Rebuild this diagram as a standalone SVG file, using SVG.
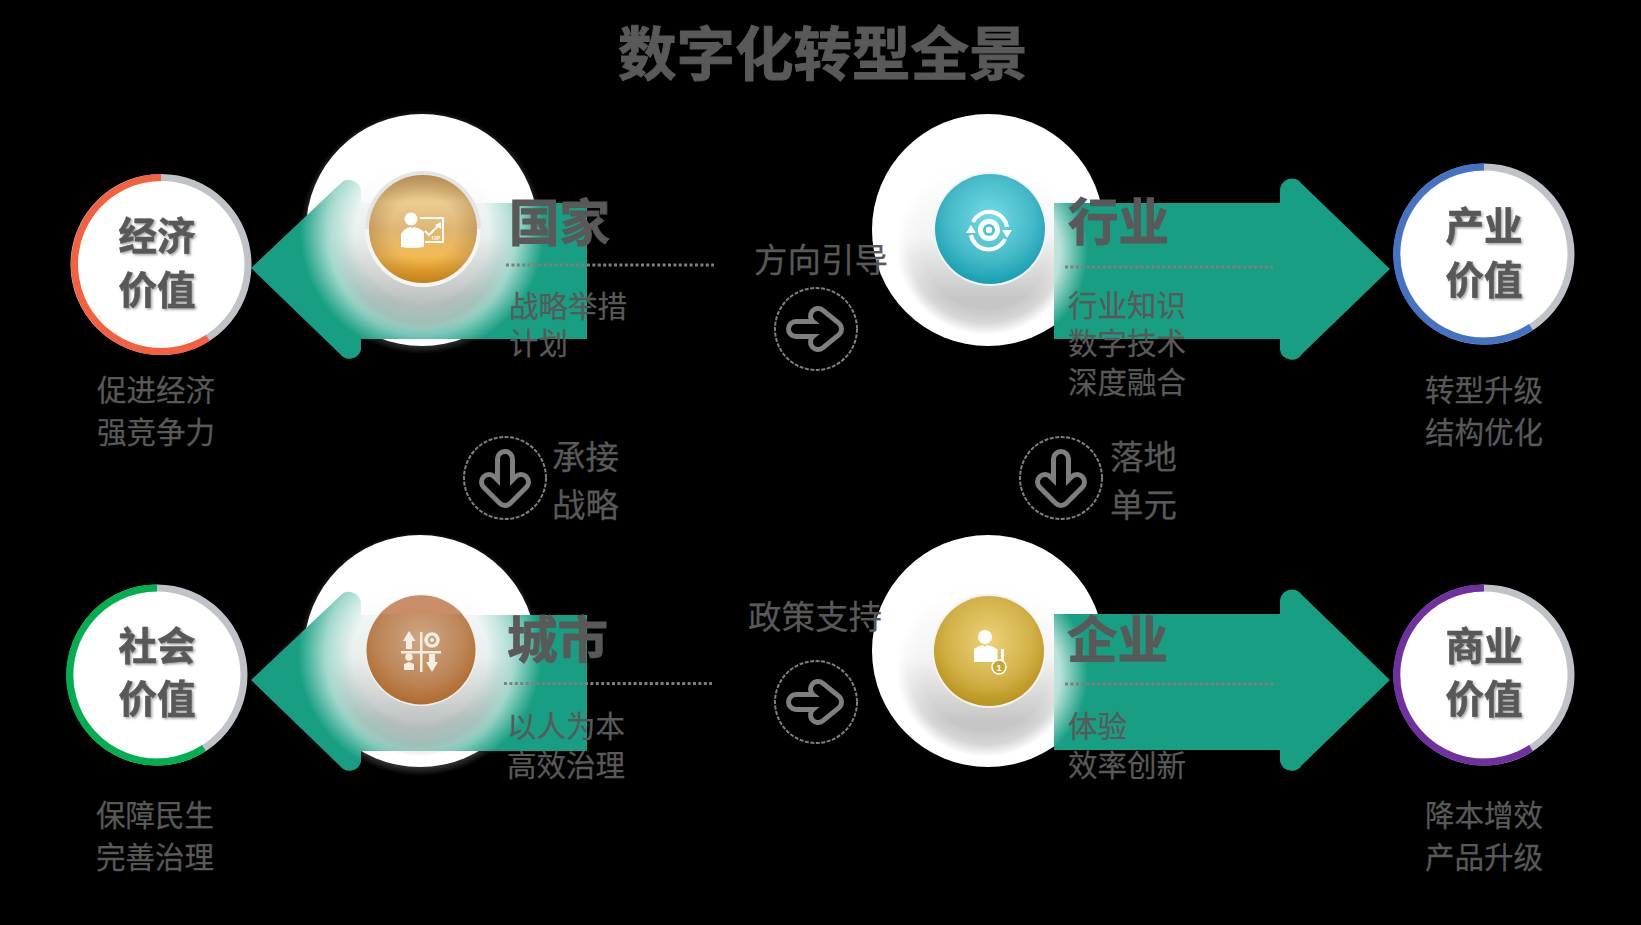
<svg xmlns="http://www.w3.org/2000/svg" width="1641" height="925" viewBox="0 0 1641 925">
<style>
text{font-family:"Liberation Sans","Noto Sans CJK SC",sans-serif;fill:#595959}
.title{font-size:58.500px;font-weight:700;stroke:#595959;stroke-width:1}
.val{font-size:38.500px;font-weight:700;text-anchor:middle;filter:url(#ts);stroke:#595959;stroke-width:.6}
.head{font-size:50.500px;font-weight:700;stroke:#595959;stroke-width:1}
.sub{font-size:29.500px;stroke:#595959;stroke-width:.25}
.cap{font-size:29.500px;text-anchor:middle;stroke:#595959;stroke-width:.25}
.lab{font-size:33.500px;stroke:#595959;stroke-width:.25}
.dot{stroke:#7f7f7f;stroke-width:3;stroke-dasharray:3 2.400;fill:none}
.track{fill:#fff;stroke:#bfc3c9;stroke-width:7}
.arc{fill:none;stroke-width:7}
.arrow{fill:#189f83}
.ic{fill:#fff}
.ics{fill:none;stroke:#fff}
.dash{fill:none;stroke:#7f7f7f;stroke-width:2;stroke-dasharray:4 1.500}
.ao{fill:none;stroke:#7f7f7f;stroke-width:20;stroke-linecap:round;stroke-linejoin:round}
.ai{fill:none;stroke:#000;stroke-width:10;stroke-linecap:round;stroke-linejoin:round}
.shade{fill:url(#shade);mask:url(#fadeUp)}
</style>
<defs>
<filter id="ts" x="-10%" y="-10%" width="125%" height="125%"><feDropShadow dx="1.500" dy="1.500" stdDeviation="1.200" flood-color="#8c8c8c" flood-opacity=".8"/></filter>
<radialGradient id="whiteL"><stop offset="0" stop-color="#fff" stop-opacity="1"/><stop offset=".55" stop-color="#fff" stop-opacity=".95"/><stop offset=".78" stop-color="#fff" stop-opacity=".6"/><stop offset="1" stop-color="#fff" stop-opacity="0"/></radialGradient>
<radialGradient id="whiteR"><stop offset="0" stop-color="#fff" stop-opacity="1"/><stop offset=".72" stop-color="#fff" stop-opacity=".7"/><stop offset="1" stop-color="#fff" stop-opacity="0"/></radialGradient>
<radialGradient id="shade"><stop offset="0" stop-color="#777" stop-opacity=".42"/><stop offset=".7" stop-color="#777" stop-opacity=".42"/><stop offset=".86" stop-color="#777" stop-opacity=".3"/><stop offset="1" stop-color="#777" stop-opacity="0"/></radialGradient>
<linearGradient id="fadeG" x1="0" y1="0" x2="0" y2="1"><stop offset=".05" stop-color="#000"/><stop offset=".45" stop-color="#333"/><stop offset=".8" stop-color="#fff"/></linearGradient>
<mask id="fadeUp" maskContentUnits="objectBoundingBox"><rect width="1" height="1" fill="url(#fadeG)"/></mask>
<linearGradient id="org" x1="0" y1="0" x2="0" y2="1"><stop offset="0" stop-color="#c49c62"/><stop offset=".25" stop-color="#eccd92"/><stop offset=".5" stop-color="#dfb672"/><stop offset=".75" stop-color="#f2ba55"/><stop offset="1" stop-color="#d98a08"/></linearGradient>
<radialGradient id="edge"><stop offset=".6" stop-color="#9a6f38" stop-opacity="0"/><stop offset="1" stop-color="#9a6f38" stop-opacity=".35"/></radialGradient>
<radialGradient id="cya" cx=".5" cy=".4" r=".65"><stop offset="0" stop-color="#74dde6"/><stop offset=".6" stop-color="#45b9c8"/><stop offset="1" stop-color="#0a99ad"/></radialGradient>
<radialGradient id="bro" cx=".5" cy=".4" r=".65"><stop offset="0" stop-color="#cfa785"/><stop offset=".6" stop-color="#bd8658"/><stop offset="1" stop-color="#ae6425"/></radialGradient>
<radialGradient id="gol" cx=".5" cy=".4" r=".65"><stop offset="0" stop-color="#ecd278"/><stop offset=".6" stop-color="#d2b148"/><stop offset="1" stop-color="#b18c10"/></radialGradient>
<path id="arL" class="arrow" d="M251 268L340 184A12 12 0 0 1 361 192V203H587V339H361V350A12 12 0 0 1 340 354Z"/>
<path id="arR" class="arrow" d="M1390 269L1302 184A12 12 0 0 0 1280 192V203H1054V339H1280V350A12 12 0 0 0 1302 354Z"/>
<g id="rightA"><circle class="dash" cx="816" cy="329" r="41"/><path class="ao" d="M796 329H834M818 316L834 329L818 342"/><path class="ai" d="M796 329H834M818 316L834 329L818 342"/></g>
<g id="downA"><circle class="dash" cx="505" cy="478" r="41"/><path class="ao" d="M505 459V498M489 482L505 498L521 482"/><path class="ai" d="M505 459V498M489 482L505 498L521 482"/></g>
</defs>
<rect width="1641" height="925" fill="#000"/>
<text class="title" x="618" y="75">数字化转型全景</text>

<g id="connectors">
<use href="#rightA"/>
<use href="#rightA" y="373"/>
<use href="#downA"/>
<use href="#downA" x="556"/>
</g>

<g id="node-guojia">
<circle cx="422" cy="230" r="116" fill="#fff"/>
<use href="#arL"/>
<circle cx="422" cy="232" r="122" fill="url(#whiteL)"/>
<circle class="shade" cx="422" cy="245" r="90"/>
<circle cx="423" cy="229" r="58" fill="#e4e4e4"/><path d="M365 229a58 58 0 0 0 116 0z" fill="#f4f4f4"/>
<circle cx="423" cy="229" r="54" fill="url(#org)"/><circle cx="423" cy="229" r="54" fill="url(#edge)"/>
<circle class="ic" cx="411" cy="219" r="6.500"/>
<path class="ic" d="M401 234q3-6 10-7l1 2 1-2q7 1 11 5v15q-12 2-23 0z"/>
<path class="ics" stroke-width="2" d="M420 218H443V242H425"/>
<path class="ics" stroke-width="2" d="M425 231L429 235L438 226"/><path class="ic" d="M441 222V229L435 225z"/>
<text x="436" y="240" font-size="6" font-weight="700" text-anchor="middle" style="fill:#fff">UP</text>
</g>

<g id="node-hangye">
<circle cx="988" cy="230" r="116" fill="#fff"/>
<circle class="shade" cx="986" cy="245" r="90"/>
<use href="#arR"/>
<clipPath id="cr1"><rect x="1054" y="203" width="60" height="136"/></clipPath>
<circle cx="988" cy="252" r="100" fill="url(#whiteR)" clip-path="url(#cr1)"/>
<circle cx="990" cy="229" r="57" fill="#f2f2f2"/>
<circle cx="990" cy="229" r="55" fill="url(#cya)"/>
<circle class="ic" cx="989" cy="230" r="11"/><circle cx="989" cy="230" r="6" fill="#4cc3d0"/><circle class="ic" cx="989" cy="230" r="3.200"/>
<path class="ics" stroke-width="4" d="M973 222A18 18 0 0 1 1007 227M1005 239A18 18 0 0 1 971 235"/>
<path class="ic" d="M1002 230H1012L1007 238zM966 233H976L971 225z"/>
</g>

<g id="node-chengshi">
<circle cx="420" cy="651" r="116" fill="#fff"/>
<use href="#arL" y="412"/>
<circle cx="420" cy="654" r="122" fill="url(#whiteL)"/>
<circle class="shade" cx="420" cy="667" r="90"/>
<circle cx="421" cy="650" r="56" fill="#ecf0ee"/>
<circle cx="421" cy="650" r="54.500" fill="url(#bro)"/>
<clipPath id="cb"><rect x="360" y="590" width="130" height="24"/></clipPath>
<circle cx="421" cy="650" r="54.500" fill="#c98d68" clip-path="url(#cb)"/>
<g class="ic" style="fill:#f2efe2">
<rect x="420" y="632" width="2.500" height="40"/><rect x="401" y="651" width="40" height="2.500"/>
<path d="M409 631L415.500 641H412V649H406V641H403z"/>
<path d="M432 672L438 662H435V654H429V662H426z"/>
<circle cx="409" cy="657" r="3.800"/><path d="M404 670V664L409 662L414 664V670z"/>
</g>
<circle cx="432" cy="640" r="6" fill="none" stroke="#f2efe2" stroke-width="3.500"/><circle cx="432" cy="640" r="2" fill="#f2efe2"/>
</g>

<g id="node-qiye">
<circle cx="988" cy="651" r="116" fill="#fff"/>
<circle class="shade" cx="986" cy="667" r="90"/>
<use href="#arR" y="411"/>
<clipPath id="cr2"><rect x="1054" y="614" width="60" height="135"/></clipPath>
<circle cx="988" cy="674" r="100" fill="url(#whiteR)" clip-path="url(#cr2)"/>
<circle cx="989" cy="651" r="57" fill="#f2f2f2"/>
<circle cx="989" cy="651" r="55" fill="url(#gol)"/>
<circle class="ic" cx="985" cy="637" r="7"/>
<path class="ic" d="M974 649q4-3 9-4l2 2 2-2q6 1 10 4v13h-23z"/>
<path class="ic" d="M995 649h2.500v12h-2.500zM1001 649h3v12h-3z"/>
<circle cx="999" cy="667" r="7" fill="#c9a63a" stroke="#fff" stroke-width="1.500"/>
<text x="999" y="670.500" font-size="9" font-weight="700" text-anchor="middle" style="fill:#fff">1</text>
</g>

<g id="ring-jingji">
<circle class="track" cx="161" cy="264.500" r="87"/>
<path class="arc" stroke="#f5603f" d="M161 177.500A87 87 0 1 0 208 338"/>
<text class="val" x="157" y="250">经济</text><text class="val" x="157" y="304">价值</text>
<text class="cap" x="156" y="401">促进经济</text><text class="cap" x="156" y="443">强竞争力</text>
</g>
<g id="ring-chanye">
<circle class="track" cx="1484" cy="254" r="87"/>
<path class="arc" stroke="#4472c4" d="M1484 167A87 87 0 1 0 1531 327"/>
<text class="val" x="1484" y="240">产业</text><text class="val" x="1484" y="294">价值</text>
<text class="cap" x="1484" y="401">转型升级</text><text class="cap" x="1484" y="443">结构优化</text>
</g>
<g id="ring-shehui">
<circle class="track" cx="157" cy="675" r="87"/>
<path class="arc" stroke="#00b050" d="M157 588A87 87 0 1 0 204 748"/>
<text class="val" x="157" y="660">社会</text><text class="val" x="157" y="713">价值</text>
<text class="cap" x="155" y="826">保障民生</text><text class="cap" x="155" y="868">完善治理</text>
</g>
<g id="ring-shangye">
<circle class="track" cx="1484" cy="675" r="87"/>
<path class="arc" stroke="#7030a0" d="M1484 588A87 87 0 1 0 1531 748"/>
<text class="val" x="1484" y="660">商业</text><text class="val" x="1484" y="713">价值</text>
<text class="cap" x="1484" y="826">降本增效</text><text class="cap" x="1484" y="868">产品升级</text>
</g>

<g id="text-guojia">
<text class="head" x="509" y="241">国家</text><path class="dot" d="M506 265H714"/>
<text class="sub" x="509" y="317">战略举措</text><text class="sub" x="509" y="354">计划</text>
</g>
<g id="text-hangye">
<text class="head" x="1068" y="240">行业</text><path class="dot" d="M1065 267H1273"/>
<text class="sub" x="1068" y="316">行业知识</text><text class="sub" x="1068" y="354">数字技术</text><text class="sub" x="1068" y="393">深度融合</text>
</g>
<g id="text-chengshi">
<text class="head" x="507" y="658">城市</text><path class="dot" d="M504 683.500H712"/>
<text class="sub" x="507" y="737">以人为本</text><text class="sub" x="507" y="776">高效治理</text>
</g>
<g id="text-qiye">
<text class="head" x="1067" y="658">企业</text><path class="dot" d="M1065 684H1273"/>
<text class="sub" x="1068" y="737">体验</text><text class="sub" x="1068" y="776">效率创新</text>
</g>
<g id="labels">
<text class="lab" x="754" y="272">方向引导</text>
<text class="lab" x="748" y="629">政策支持</text>
<text class="lab" x="552" y="469">承接</text><text class="lab" x="552" y="517">战略</text>
<text class="lab" x="1110" y="469">落地</text><text class="lab" x="1110" y="517">单元</text>
</g>
</svg>
